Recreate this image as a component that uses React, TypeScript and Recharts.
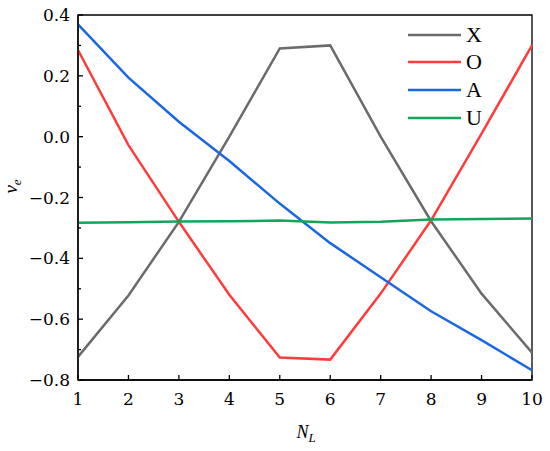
import React from 'react';
import { LineChart, Line, XAxis, YAxis, Legend, ReferenceArea } from 'recharts';

const nl = [1, 2, 3, 4, 5, 6, 7, 8, 9, 10];
const xVals = [-0.724, -0.522, -0.28, 0.0, 0.29, 0.3, 0.0, -0.278, -0.516, -0.71];
const oVals = [0.285, -0.028, -0.28, -0.52, -0.726, -0.733, -0.516, -0.275, 0.01, 0.3];
const aVals = [0.369, 0.194, 0.049, -0.08, -0.22, -0.35, -0.462, -0.574, -0.669, -0.768];
const uVals = [-0.283, -0.281, -0.279, -0.278, -0.276, -0.282, -0.28, -0.272, -0.271, -0.269];

const xTicks = [1, 2, 3, 4, 5, 6, 7, 8, 9, 10];
const yTicks = [-0.8, -0.7, -0.6, -0.5, -0.4, -0.3, -0.2, -0.1, 0, 0.1, 0.2, 0.3, 0.4];

const series = [
  { key: 'X', color: '#6b6b6b', vals: xVals },
  { key: 'O', color: '#ff3b3b', vals: oVals },
  { key: 'A', color: '#1a68e0', vals: aVals },
  { key: 'U', color: '#12a65a', vals: uVals },
];

const data = nl.map((n, i) => {
  const row: Record<string, number> = { n };
  series.forEach((s) => {
    row[s.key] = s.vals[i];
  });
  return row;
});

// Liberation Serif here has no serif digits, so numbers use DejaVu Serif
const FONT = 'Liberation Serif, serif';
const NUM_FONT = 'DejaVu Serif, serif';

const XTick = (props: any) => {
  const { x, y, payload } = props;
  return (
    <g>
      <line x1={x} x2={x} y1={y} y2={y - 5} stroke="#000" strokeWidth={1.3} />
      <text x={x} y={y + 25} textAnchor="middle" fontSize={17} fontFamily={NUM_FONT} fill="#000">
        {payload.value}
      </text>
    </g>
  );
};

const YTick = (props: any) => {
  const { x, y, payload } = props;
  const v = payload.value as number;
  const major = Math.round(v * 10) % 2 === 0;
  const label = v.toFixed(1).replace('-', '\u2212');
  const axisX = x + 8;
  return (
    <g>
      <line x1={axisX} x2={axisX + (major ? 5 : 3)} y1={y} y2={y} stroke="#000" strokeWidth={1.3} />
      {major && (
        <text x={x} y={y + 6} textAnchor="end" fontSize={17} fontFamily={NUM_FONT} fill="#000">
          {label === '\u22120.0' ? '0.0' : label}
        </text>
      )}
    </g>
  );
};

// legend keeps the series order (X, O, A, U) instead of recharts' sorted payload
const renderLegend = () => (
  <div style={{ fontFamily: FONT }}>
    {series.map((s) => (
      <div key={s.key} style={{ display: 'flex', alignItems: 'center', height: 27.6 }}>
        <svg width={53} height={4}>
          <line x1={0} x2={53} y1={2} y2={2} stroke={s.color} strokeWidth={2.6} />
        </svg>
        <span style={{ marginLeft: 5, fontSize: 22, lineHeight: '22px', color: '#000' }}>{s.key}</span>
      </div>
    ))}
  </div>
);

const App: React.FC = () => {
  return (
    <div style={{ position: 'absolute', left: 0, top: 0, background: '#fff' }}>
      <LineChart width={550} height={451} data={data} margin={{ top: 15, right: 18, left: 0, bottom: 0 }}>
        <XAxis
          dataKey="n"
          type="number"
          domain={[1, 10]}
          ticks={xTicks}
          tickSize={0}
          tickMargin={0}
          tickLine={false}
          height={71}
          axisLine={{ stroke: '#000', strokeWidth: 1.3 }}
          tick={<XTick />}
          interval={0}
          label={{
            content: (p: any) => {
              const vb = p.viewBox;
              const cx = vb.x + vb.width / 2 + 1;
              const by = vb.y + 58;
              return (
                <text x={cx} y={by} textAnchor="middle" fontFamily={FONT} fontStyle="italic" fontSize={18} fill="#000">
                  N<tspan dy={4} fontSize={13}>L</tspan>
                </text>
              );
            },
          }}
        />
        <YAxis
          type="number"
          domain={[-0.8, 0.4]}
          ticks={yTicks}
          tickSize={0}
          tickMargin={8}
          tickLine={false}
          width={78}
          interval={0}
          axisLine={{ stroke: '#000', strokeWidth: 1.3 }}
          tick={<YTick />}
          label={{
            content: (p: any) => {
              const vb = p.viewBox;
              const cx = vb.x + 17;
              const cy = vb.y + vb.height / 2 - 11;
              return (
                <text
                  x={cx}
                  y={cy}
                  transform={`rotate(-90, ${cx}, ${cy})`}
                  textAnchor="middle"
                  fontFamily={FONT}
                  fontStyle="italic"
                  fontSize={19}
                  fill="#000"
                >
                  ν<tspan dy={4} fontSize={13}>e</tspan>
                </text>
              );
            },
          }}
        />
        <ReferenceArea x1={1} x2={10} y1={-0.8} y2={0.4} fill="none" stroke="#000" strokeWidth={1.3} />
        {series.map((s) => (
          <Line
            key={s.key}
            type="linear"
            dataKey={s.key}
            stroke={s.color}
            strokeWidth={2.5}
            dot={false}
            isAnimationActive={false}
          />
        ))}
        <Legend
          layout="vertical"
          align="center"
          verticalAlign="middle"
          content={renderLegend}
          wrapperStyle={{ position: 'absolute', left: 408, top: 21, width: 'auto' }}
        />
      </LineChart>
    </div>
  );
};

export default App;
